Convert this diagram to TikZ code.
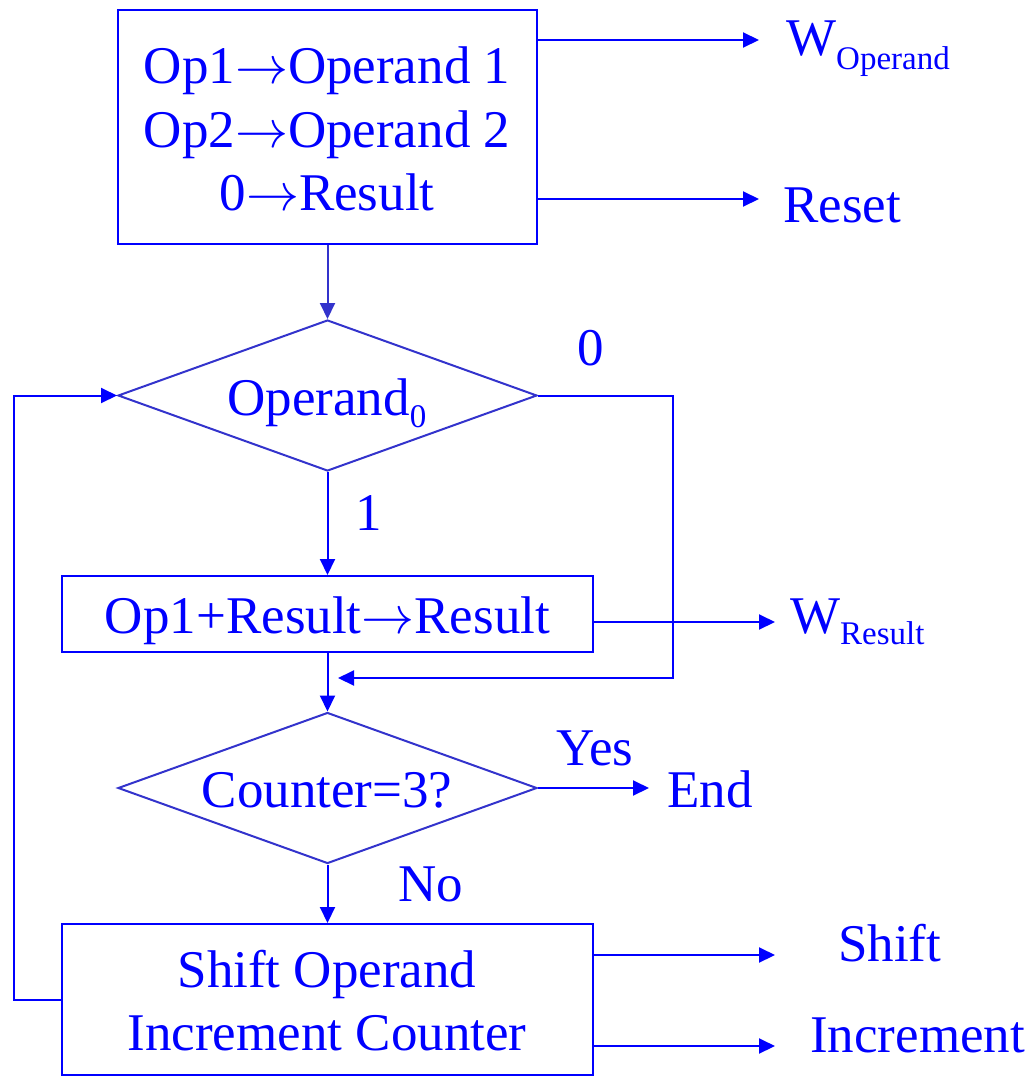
\RequirePackage{fix-cm}
\documentclass[tikz,border=0pt]{standalone}
\usepackage{fontspec}
\setmainfont{Liberation Serif}
\usetikzlibrary{shapes.geometric,arrows.meta}
\definecolor{fc}{RGB}{0,0,255}
\definecolor{dc}{RGB}{51,51,204}
\newcommand\bigtxt{\fontsize{53}{63}\selectfont}
\newcommand\lowsub[2]{\raisebox{-#1}{\fontsize{33}{33}\selectfont #2}}
\newcommand\goesto{$\rightarrow$}
\begin{document}
\begin{tikzpicture}[x=1pt,y=-1pt,
  proc/.style={draw=fc, line width=2pt, rectangle, inner sep=0pt},
  dec/.style={draw=dc, line width=2pt, diamond, inner sep=0pt,
              minimum width=419pt, minimum height=151pt},
  txt/.style={text=fc, font=\bigtxt, inner sep=0pt, anchor=base},
  txtw/.style={txt, anchor=base west},
  flow/.style={draw=fc, line width=2pt, -{Triangle[length=16pt,width=15pt]}}]
\useasboundingbox (0,0) rectangle (1032,1076);

% initialisation block
\node[proc, minimum width=419pt, minimum height=234pt] (b1) at (327.5,127) {};
\node[txt] (b1a) at (327,83) {Op1\goesto Operand 1};
\node[txt] (b1b) at (327,147) {Op2\goesto Operand 2};
\node[txt] (b1c) at (327,210) {0\goesto Result};
\coordinate (e1) at (759,40);
\coordinate (e2) at (759,199);
\draw[flow] (b1.east |- e1) -- (e1);
\draw[flow] (b1.east |- e2) -- (e2);
\node[txtw] (wop) at (786,55) {W\lowsub{14pt}{Operand}};
\node[txtw] (rst) at (783,222) {Reset};

% test of the lowest operand bit
\node[dec] (d1) at (327.5,395.5) {};
\node[txt] (d1t) at (327,415) {Operand\lowsub{12pt}{0}};
\draw[flow, draw=dc] (b1.south) -- (d1.north);
\node[txt] (zero) at (591,365) {0};
\node[txt] (one) at (369,530) {1};

% accumulate
\node[proc, minimum width=531pt, minimum height=76pt] (b2) at (327.5,614) {};
\node[txt] (b2t) at (327.5,633) {Op1+Result\goesto Result};
\draw[flow] (d1.south) -- (b2.north);
\coordinate (e3) at (775,622);
\draw[flow] (b2.east |- e3) -- (e3);
\node[txtw] (wres) at (790,633) {W\lowsub{11pt}{Result}};

% bypass for a zero bit
\coordinate (r1) at (673,395.5);
\coordinate (m1) at (338,678);
\draw[flow] (d1.east) -- (r1) |- (m1);

% loop counter test
\node[dec] (d2) at (327.5,788) {};
\node[txt] (d2t) at (327,807) {Counter=3?};
\draw[flow] (b2.south) -- (d2.north);
\coordinate (e4) at (649,788);
\draw[flow] (d2.east) -- (e4);
\node[txtw] (endt) at (667,807) {End};
\node[txt] (yes) at (595,765) {Yes};
\node[txt] (no) at (431,901) {No};

% shift and increment
\node[proc, minimum width=531pt, minimum height=151pt] (b4) at (327.5,999.5) {};
\node[txt] (b4a) at (327,987) {Shift Operand};
\node[txt] (b4b) at (327,1050) {Increment Counter};
\draw[flow] (d2.south) -- (b4.north);
\coordinate (e5) at (775,955);
\coordinate (e6) at (775,1046);
\draw[flow] (b4.east |- e5) -- (e5);
\draw[flow] (b4.east |- e6) -- (e6);
\node[txtw] (sh) at (838,961) {Shift};
\node[txtw] (inc) at (810,1052) {Increment};

% back to the bit test
\coordinate (lp) at (14,999.5);
\draw[flow] (b4.west) -- (lp) |- (d1.west);
\end{tikzpicture}
\end{document}
